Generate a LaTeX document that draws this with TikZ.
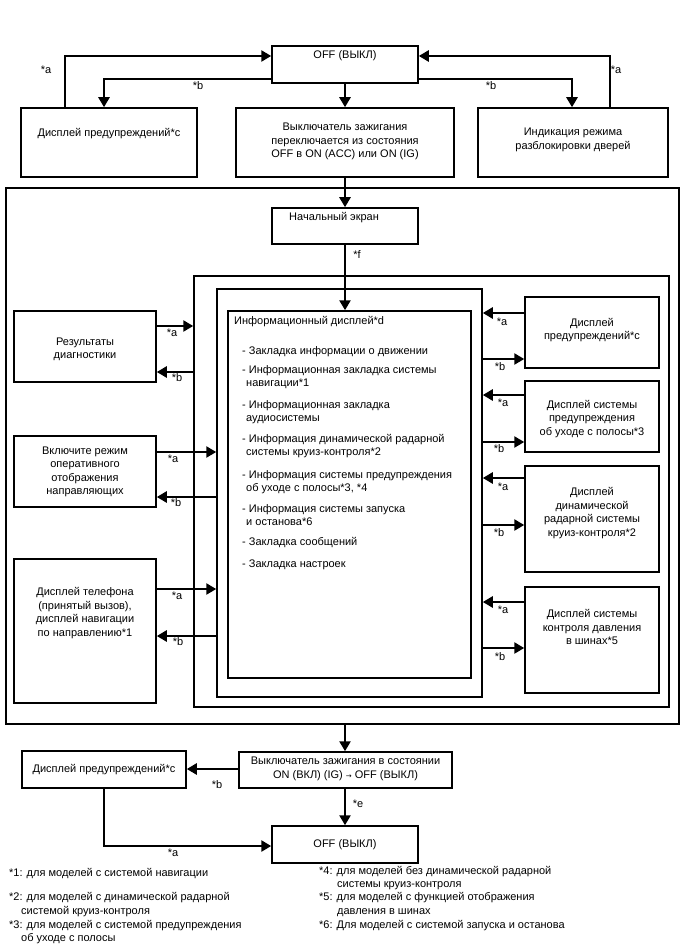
\documentclass[tikz,border=0pt]{standalone}
\usepackage{fontspec}
\setmainfont{Liberation Sans}
\newfontfamily\dejavu{DejaVu Sans}
\usetikzlibrary{arrows.meta}
\newcommand\fs{\fontsize{11}{13.5}\selectfont}
\begin{document}
\begin{tikzpicture}[x=1pt,y=-1pt,
 box/.style={draw, line width=1.5pt, inner sep=0pt},
 arr/.style={line width=2.6pt, -{Triangle[length=10pt,width=11pt]}},
 ln/.style={line width=2.6pt},
 txt/.style={font=\fs, inner sep=0pt, align=center},
 lbl/.style={font=\fs, inner sep=0pt},
 iline/.style={font=\fs, inner sep=0pt, anchor=west, text height=8pt, text depth=2.5pt},
]
\useasboundingbox[fill=white] (0,0) rectangle (688,949);

% ---------- boxes ----------
\node[box, minimum width=146pt, minimum height=37pt] (off1) at (345,64.5) {};
\node[box, minimum width=176pt, minimum height=69pt] (warn1) at (109,142.5) {};
\node[box, minimum width=218pt, minimum height=69pt] (ign1) at (345,142.5) {};
\node[box, minimum width=190pt, minimum height=69pt] (door) at (573,142.5) {};

\node[box, minimum width=673pt, minimum height=536pt] (outer) at (342.5,456) {};
\node[box, minimum width=146pt, minimum height=36pt] (start) at (345,226) {};
\node[box, minimum width=475pt, minimum height=431pt] (frame2) at (431.5,491.5) {};
\node[box, minimum width=265pt, minimum height=408pt] (frame3) at (349.5,493) {};
\node[box, minimum width=243pt, minimum height=367pt] (info) at (349.5,494.5) {};

\node[box, minimum width=142pt, minimum height=71pt] (diag) at (85,346.5) {};
\node[box, minimum width=142pt, minimum height=71pt] (guide) at (85,471.5) {};
\node[box, minimum width=142pt, minimum height=144pt] (phone) at (85,631) {};

\node[box, minimum width=134pt, minimum height=71pt] (warn2) at (592,332.5) {};
\node[box, minimum width=134pt, minimum height=71pt] (lane) at (592,416.5) {};
\node[box, minimum width=134pt, minimum height=106pt] (acc) at (592,519) {};
\node[box, minimum width=134pt, minimum height=106pt] (tpms) at (592,640) {};

\node[box, minimum width=213pt, minimum height=36pt] (ign2) at (345.5,770) {};
\node[box, minimum width=164pt, minimum height=37pt] (warn3) at (104,769.5) {};
\node[box, minimum width=146pt, minimum height=37pt] (off2) at (345,844.5) {};

% ---------- texts ----------
\node[txt] (off1t) at (345,56) {OFF (ВЫКЛ)};
\node[txt] (warn1t) at (109,134) {Дисплей предупреждений*c};
\node[txt] (ign1t) at (345,141.6) {Выключатель зажигания\\переключается из состояния\\OFF в ON (ACC) или ON (IG)};
\node[txt] (doort) at (573,140) {Индикация режима\\разблокировки дверей};
\node[iline] (startt) at (289,218) {Начальный экран};

\node[iline] (i0) at (234,322) {Информационный дисплей*d};
\node[iline] (i1) at (242,352) {- Закладка информации о движении};
\node[iline] (i2) at (242,371) {- Информационная закладка системы};
\node[iline] (i2b) at (246,384) {навигации*1};
\node[iline] (i3) at (242,406) {- Информационная закладка};
\node[iline] (i3b) at (246,419) {аудиосистемы};
\node[iline] (i4) at (242,440) {- Информация динамической радарной};
\node[iline] (i4b) at (246,453) {системы круиз-контроля*2};
\node[iline] (i5) at (242,476) {- Информация системы предупреждения};
\node[iline] (i5b) at (246,489) {об уходе с полосы*3, *4};
\node[iline] (i6) at (242,510) {- Информация системы запуска};
\node[iline] (i6b) at (246,523) {и останова*6};
\node[iline] (i7) at (242,543) {- Закладка сообщений};
\node[iline] (i8) at (242,565) {- Закладка настроек};

\node[txt] (diagt) at (85,349.5) {Результаты\\диагностики};
\node[txt] (guidet) at (85,472) {Включите режим\\оперативного\\отображения\\направляющих};
\node[txt] (phonet) at (85,613) {Дисплей телефона\\(принятый вызов),\\дисплей навигации\\по направлению*1};

\node[txt] (warn2t) at (592,330) {Дисплей\\предупреждений*c};
\node[txt] (lanet) at (592,419) {Дисплей системы\\предупреждения\\об уходе с полосы*3};
\node[txt] (acct) at (592,513) {Дисплей\\динамической\\радарной системы\\круиз-контроля*2};
\node[txt] (tpmst) at (592,627) {Дисплей системы\\контроля давления\\в шинах*5};

\node[txt] (ign2t) at (345.5,769) {Выключатель зажигания в состоянии\\ON (ВКЛ) (IG) {\dejavu\fontsize{7}{7}\selectfont →} OFF (ВЫКЛ)};
\node[txt] (warn3t) at (104,770) {Дисплей предупреждений*c};
\node[txt] (off2t) at (345,845) {OFF (ВЫКЛ)};

% ---------- connectors ----------
\draw[arr] (warn1.north -| 65,0) |- (off1.west |- 0,56);
\draw[arr] (off1.west |- 0,79) -| (warn1.north -| 104,0);
\draw[arr] (off1.east |- 0,79) -| (door.north -| 572,0);
\draw[arr] (door.north -| 610,0) |- (off1.east |- 0,56);
\draw[arr] (off1.south) -- (ign1.north);
\draw[arr] (ign1.south) -- (start.north);
\draw[arr] (start.south) -- (start.south |- info.north);

\draw[arr] (diag.east |- 0,326) -- (frame2.west |- 0,326);
\draw[arr] (frame2.west |- 0,372) -- (diag.east |- 0,372);
\draw[arr] (guide.east |- 0,452) -- (frame3.west |- 0,452);
\draw[arr] (frame3.west |- 0,497) -- (guide.east |- 0,497);
\draw[arr] (phone.east |- 0,589) -- (frame3.west |- 0,589);
\draw[arr] (frame3.west |- 0,636) -- (phone.east |- 0,636);

\draw[arr] (warn2.west |- 0,313) -- (frame3.east |- 0,313);
\draw[arr] (frame3.east |- 0,359) -- (warn2.west |- 0,359);
\draw[arr] (lane.west |- 0,395) -- (frame3.east |- 0,395);
\draw[arr] (frame3.east |- 0,442) -- (lane.west |- 0,442);
\draw[arr] (acc.west |- 0,478) -- (frame3.east |- 0,478);
\draw[arr] (frame3.east |- 0,525) -- (acc.west |- 0,525);
\draw[arr] (tpms.west |- 0,602) -- (frame3.east |- 0,602);
\draw[arr] (frame3.east |- 0,648) -- (tpms.west |- 0,648);

\draw[arr] (outer.south -| 345,0) -- (ign2.north -| 345,0);
\draw[arr] (ign2.west |- 0,769) -- (warn3.east |- 0,769);
\draw[arr] (ign2.south -| 345,0) -- (off2.north -| 345,0);
\draw[arr] (warn3.south -| 104,0) |- (off2.west |- 0,846);

% ---------- connector labels ----------
\node[lbl] (la1) at (46,70) {*a};
\node[lbl] (lb1) at (198,86) {*b};
\node[lbl] (lb2) at (491,86) {*b};
\node[lbl] (la2) at (616,70) {*a};
\node[lbl] (lf) at (357,255) {*f};

\node[lbl] (la3) at (172,333) {*a};
\node[lbl] (lb3) at (177,378) {*b};
\node[lbl] (la4) at (173,459) {*a};
\node[lbl] (lb4) at (176,503) {*b};
\node[lbl] (la5) at (177,596) {*a};
\node[lbl] (lb5) at (178,642) {*b};

\node[lbl] (la6) at (502,322) {*a};
\node[lbl] (lb6) at (500,367) {*b};
\node[lbl] (la7) at (503,403) {*a};
\node[lbl] (lb7) at (499,449) {*b};
\node[lbl] (la8) at (503,487) {*a};
\node[lbl] (lb8) at (499,533) {*b};
\node[lbl] (la9) at (503,610) {*a};
\node[lbl] (lb9) at (500,657) {*b};

\node[lbl] (lb10) at (217,785) {*b};
\node[lbl] (le) at (358,804) {*e};
\node[lbl] (la10) at (173,853) {*a};

% ---------- footnotes ----------
\node[iline] (f1) at (9,874) {*1: для моделей с системой навигации};
\node[iline] (f2) at (9,898) {*2: для моделей с динамической радарной};
\node[iline] (f2b) at (21,912) {системой круиз-контроля};
\node[iline] (f3) at (9,926) {*3: для моделей с системой предупреждения};
\node[iline] (f3b) at (21,939) {об уходе с полосы};
\node[iline] (f4) at (319,872) {*4: для моделей без динамической радарной};
\node[iline] (f4b) at (337,885) {системы круиз-контроля};
\node[iline] (f5) at (319,898) {*5: для моделей с функцией отображения};
\node[iline] (f5b) at (337,912) {давления в шинах};
\node[iline] (f6) at (319,926) {*6: Для моделей с системой запуска и останова};
\end{tikzpicture}
\end{document}
